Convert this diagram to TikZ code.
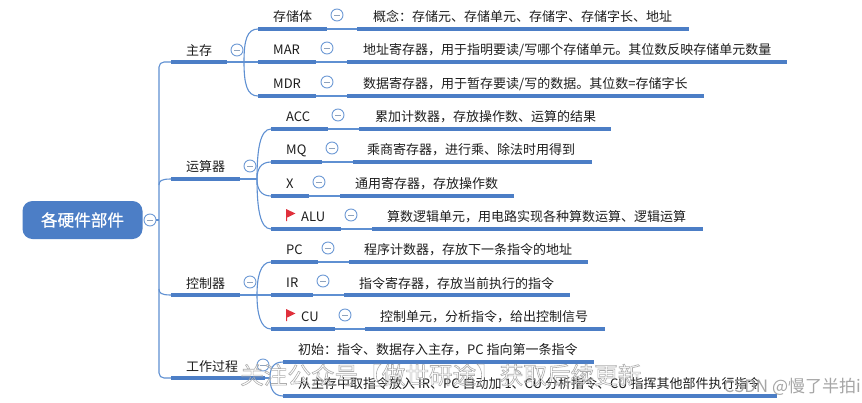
\documentclass[tikz,border=0pt]{standalone}
\usepackage{fontspec}
\setmainfont{Noto Sans CJK SC}
\newfontfamily\rootfont[FakeBold=0.6]{Noto Sans CJK SC}
\definecolor{mapblue}{HTML}{4C7EC6}
\definecolor{lineblue}{HTML}{5F90D2}
\definecolor{ringblue}{HTML}{6F9BD6}
\definecolor{minusgray}{HTML}{8FA3BD}
\definecolor{flagred}{HTML}{E0303C}
\definecolor{inkdark}{HTML}{1E1E1E}
\newcommand{\outlinedtext}[1]{\special{pdf:code q 1 Tr 0.6 w 0.68 G}#1\special{pdf:code Q}}
\tikzset{
  lbl/.style={anchor=west,inner sep=0pt,font=\fontsize{13}{13}\selectfont,text=inkdark,text height=11pt,text depth=1pt},
  ring/.style={circle,draw=ringblue,line width=0.9pt,fill=white,minimum size=12pt,inner sep=0pt,
    path picture={\draw[minusgray,line width=1pt] ([xshift=-3pt]path picture bounding box.center) -- ([xshift=3pt]path picture bounding box.center);}},
  thin link/.style={draw=lineblue,line width=1.1pt},
  thick bar/.style={draw=mapblue,line width=3.2pt},
  rootbox/.style={rounded corners=10pt,fill=mapblue,minimum width=120pt,minimum height=38pt,inner sep=0pt,text=white,font=\rootfont\fontsize{16.6}{16.6}\selectfont},
}
% id, title, title x, ring x, bar start, bar end, second bar start, line end, line y
\newcommand{\maprow}[9]{%
  \node[lbl] (#1) at (#3,#9-13) {#2};
  \node[ring] (#1r) at (#4,#9-14) {};
  \coordinate (#1a) at (#5,#9);
  \coordinate (#1b) at (#6,#9);
  \coordinate (#1c) at (#7,#9);
  \coordinate (#1e) at (#8,#9);
  \draw[thin link] (#1b) -- (#1c);
  \draw[thick bar] (#1a) -- (#1b);
  \draw[thick bar] (#1c) -- (#1e);
}
\newcommand{\mapflag}[2]{%
  \fill[flagred] (#1,#2-6) -- (#1+9.5,#2-1.5) -- (#1+1.2,#2+2.5) -- (#1+1.2,#2+6) -- (#1,#2+6) -- cycle;
}
\begin{document}
\begin{tikzpicture}[x=1pt,y=-1pt]
\useasboundingbox (0,0) rectangle (862,402);
\fill[white] (0,0) rectangle (862,402);

% trunk
\coordinate (tk) at (159,220);
\coordinate (b1a) at (171,62);
\coordinate (b1b) at (227,62);
\coordinate (b1x) at (244,62);
\coordinate (b2a) at (171,179);
\coordinate (b2b) at (240,179);
\coordinate (b2x) at (257,179);
\coordinate (b3a) at (171,295);
\coordinate (b3b) at (240,295);
\coordinate (b3x) at (257,295);
\coordinate (b4a) at (171,378);
\coordinate (b4b) at (265,378);
\coordinate (b4x) at (270,378);

\node[rootbox] (root) at (82.5,220) {各硬件部件};
\node[ring] (rootr) at (150,220) {};
\draw[thin link] (rootr) -- (tk);
\draw[thin link,rounded corners=5pt] (b1a) -| (tk) |- (b4a);
\draw[thin link] (159,185) .. controls (159,181) and (161,179) .. (b2a);
\draw[thin link] (159,289) .. controls (159,293) and (161,295) .. (b3a);

\foreach \p/\q in {b1a/b1b,b2a/b2b,b3a/b3b,b4a/b4b}{\draw[thick bar] (\p) -- (\q);}
\draw[thin link] (b1b) -- (b1x);
\draw[thin link] (b2b) -- (b2x);
\draw[thin link] (b3b) -- (b3x);
\draw[thin link] (b4b) -- (b4x);

\node[lbl] (zc) at (186,50) {主存};
\node[ring] (zcr) at (237,50) {};
\node[lbl] (ys) at (186,166) {运算器};
\node[ring] (ysr) at (250,166) {};
\node[lbl] (kz) at (186,283) {控制器};
\node[ring] (kzr) at (250,282) {};
\node[lbl] (gz) at (186,366) {工作过程};
\node[ring] (gzr) at (263,365) {};

% rows
\maprow{cct}{存储体}{273}{337}{258}{327}{357}{689}{29}
\maprow{mar}{MAR}{273}{327}{258}{316}{347}{787}{62}
\maprow{mdr}{MDR}{273}{327}{258}{316}{347}{704}{96}
\maprow{acc}{ACC}{286}{338}{271}{328}{359}{611}{129}
\maprow{mq}{MQ}{286}{332}{271}{322}{353}{592}{162}
\maprow{xr}{X}{286}{319}{271}{309}{340}{514}{196}
\maprow{alu}{ALU}{301}{351}{271}{341}{372}{703}{229}
\maprow{pc}{PC}{286}{328}{271}{318}{349}{588}{262}
\maprow{ir}{IR}{286}{323}{271}{313}{344}{570}{295}
\maprow{cu}{CU}{301}{345}{271}{335}{365}{605}{329}

\node[lbl] (cctd) at (373,16) {概念：存储元、存储单元、存储字、存储字长、地址};
\node[lbl] (mard) at (363,49) {地址寄存器，用于指明要读/写哪个存储单元。其位数反映存储单元数量};
\node[lbl] (mdrd) at (363,83) {数据寄存器，用于暂存要读/写的数据。其位数=存储字长};
\node[lbl] (accd) at (375,116) {累加计数器，存放操作数、运算的结果};
\node[lbl] (mqd) at (367,149) {乘商寄存器，进行乘、除法时用得到};
\node[lbl] (xrd) at (355,183) {通用寄存器，存放操作数};
\node[lbl] (alud) at (387,216) {算数逻辑单元，用电路实现各种算数运算、逻辑运算};
\node[lbl] (pcd) at (364,249) {程序计数器，存放下一条指令的地址};
\node[lbl] (ird) at (359,283) {指令寄存器，存放当前执行的指令};
\node[lbl] (cud) at (380,316) {控制单元，分析指令，给出控制信号};

\mapflag{286}{215}
\mapflag{286}{315}

% branch curves
\draw[thin link] (b1x) .. controls (244,40) and (247,29) .. (ccta);
\draw[thin link] (b1x) -- (mara);
\draw[thin link] (b1x) .. controls (244,84) and (247,96) .. (mdra);
\draw[thin link] (b2x) .. controls (257,150) and (260,129) .. (acca);
\draw[thin link] (b2x) .. controls (257,170) and (260,162) .. (mqa);
\draw[thin link] (b2x) .. controls (257,188) and (260,196) .. (xra);
\draw[thin link] (b2x) .. controls (257,208) and (260,229) .. (alua);
\draw[thin link] (b3x) .. controls (257,278) and (260,262) .. (pca);
\draw[thin link] (b3x) -- (ira);
\draw[thin link] (b3x) .. controls (257,312) and (260,329) .. (cua);

% work process
\coordinate (w1a) at (283,362);
\coordinate (w1e) at (594,362);
\coordinate (w2a) at (283,396);
\coordinate (w2e) at (777,396);
\node[lbl] (w1) at (298,349) {初始：指令、数据存入主存，PC 指向第一条指令};
\node[lbl] (w2) at (298,383) {从主存中取指令放入 IR、PC 自动加 1、CU 分析指令、CU 指挥其他部件执行指令};
\draw[thick bar] (w1a) -- (w1e);
\draw[thick bar] (w2a) -- (w2e);
\draw[thin link] (b4x) .. controls (270,370) and (272,362) .. (w1a);
\draw[thin link] (b4x) .. controls (270,386) and (272,396) .. (w2a);

% overlaid watermarks
\node[anchor=west,inner sep=0pt,font=\fontsize{23.6}{23.6}\selectfont] (wm) at (240,375) {\outlinedtext{关注公众号【做世研途】获取后续更新}};
\node[anchor=east,inner sep=0pt,font=\fontsize{17}{17}\selectfont,text=black!35] (csdn) at (861,387) {CSDN @慢了半拍i};
\end{tikzpicture}
\end{document}
